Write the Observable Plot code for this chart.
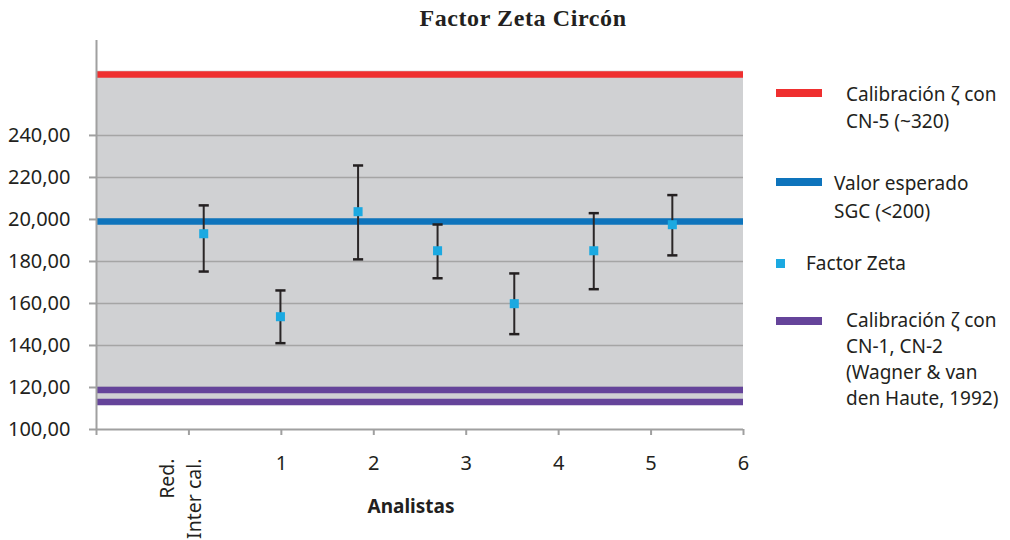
<!DOCTYPE html>
<html><head><meta charset="utf-8">
<script src="https://cdn.jsdelivr.net/npm/d3@7"></script>
<script src="https://cdn.jsdelivr.net/npm/@observablehq/plot@0.6"></script>
<style>
body{margin:0;background:#fff;}
#wrap{position:relative;width:1010px;height:540px;font-family:"Noto Sans",sans-serif;color:#231f20;overflow:hidden;}
#title{position:absolute;left:273px;width:500px;top:4px;line-height:28px;text-align:center;font-weight:bold;font-size:24px;letter-spacing:0.6px;font-family:"Liberation Serif","DejaVu Serif",serif;color:#231f20;}
#chart{position:absolute;left:0;top:0;}
.sw{position:absolute;}
.lt{position:absolute;font-size:19px;white-space:pre;color:#231f20;}
</style></head>
<body>
<div id="wrap">
  <div id="chart"></div>
  <div id="title"></div>
  <div id="legend"></div>
</div>
<script>
// ---- data ----
const titleText = "Factor Zeta Circón";
const xAxisLabel = "Analistas";
const xTicks = [1, 2, 3, 4, 5, 6, 7];
const xTickLabels = ["Red.\nInter cal.", "1", "2", "3", "4", "5", "6"];
const yTicks = [100, 120, 140, 160, 180, 200, 220, 240];
const yTickLabels = ["100,00", "120,00", "140,00", "160,00", "180,00", "20,000", "220,00", "240,00"];
const analystX = [1.16, 1.99, 2.83, 3.69, 4.52, 5.38, 6.23];
const factorZeta = [193.2, 153.7, 203.7, 185.1, 159.9, 185.1, 197.5];
const errLow = [175.2, 141.1, 181.0, 172.0, 145.4, 166.8, 182.9];
const errHigh = [206.7, 166.2, 225.7, 197.6, 174.3, 203.0, 211.6];
const refNames = ["Calibración ζ con\nCN-5 (~320)", "Valor esperado\nSGC (<200)", "Calibración ζ con\nCN-1, CN-2\n(Wagner & van\nden Haute, 1992)", "Calibración ζ con\nCN-1, CN-2\n(Wagner & van\nden Haute, 1992)"];
const refValues = [269, 199, 118.8, 113.1];
const refColors = ["#ef2f2f", "#0e74bc", "#65449a", "#65449a"];
const bandRange = [111.4, 270.6];
const pointName = "Factor Zeta";
const pointColor = "#1ba9e1";

// ---- tables ----
const points = analystX.map((x, i) => ({x, y: factorZeta[i], lo: errLow[i], hi: errHigh[i]}));
const refs = refValues.map((v, i) => ({v, c: refColors[i], name: refNames[i]}));
const capHalf = 0.055;

document.getElementById("title").textContent = titleText;

const chart = Plot.plot({
  width: 760,
  height: 540,
  marginLeft: 96,
  marginRight: 17,
  marginTop: 40,
  marginBottom: 111,
  style: {fontFamily: "Noto Sans, sans-serif", fontSize: "20px", color: "#231f20", background: "transparent"},
  x: {domain: [0, 7]},
  y: {domain: [100, 285.2]},
  marks: [
    Plot.rect([bandRange], {x1: 0, x2: 7, y1: d => d[0], y2: d => d[1], fill: "#d0d1d3"}),
    Plot.gridY(yTicks.filter(t => t > 100), {stroke: "#a5a5a5", strokeOpacity: 1, strokeWidth: 1.6}),
    Plot.ruleY(refs, {y: "v", x1: 0, x2: 7, stroke: "c", strokeWidth: 6.5}),
    Plot.ruleX(points, {x: "x", y1: "lo", y2: "hi", stroke: "#2a2627", strokeWidth: 2}),
    Plot.link(points, {x1: d => d.x - capHalf, x2: d => d.x + capHalf, y1: "hi", y2: "hi", stroke: "#231f20", strokeWidth: 2.5}),
    Plot.link(points, {x1: d => d.x - capHalf, x2: d => d.x + capHalf, y1: "lo", y2: "lo", stroke: "#231f20", strokeWidth: 2.5}),
    Plot.dot(points, {x: "x", y: "y", symbol: "square", r: 5.1, fill: pointColor}),
    Plot.ruleX([0], {stroke: "#a0a0a0", strokeWidth: 2}),
    Plot.ruleY([100], {stroke: "#a0a0a0", strokeWidth: 2}),
    Plot.axisY({ticks: yTicks, tickFormat: d => yTickLabels[yTicks.indexOf(d)], tickSize: 7, tickPadding: 19, stroke: "#a0a0a0", strokeWidth: 2, fill: "#231f20", label: null}),
    Plot.axisX({ticks: [0, ...xTicks], tickFormat: d => (d === 0 || d === xTicks[0]) ? "" : xTickLabels[xTicks.indexOf(d)], tickSize: 6, tickPadding: 20, stroke: "#a0a0a0", strokeWidth: 2, fill: "#231f20", label: null}),
    Plot.text([xTickLabels[0]], {x: xTicks[0], frameAnchor: "bottom", rotate: -90, textAnchor: "end", lineAnchor: "middle", lineHeight: 1.4, dy: 29, dx: -10, fontSize: 19.5, fill: "#231f20"}),
    Plot.text([xAxisLabel], {frameAnchor: "bottom", dy: 83, dx: -9, fontWeight: "bold", fontSize: 19, fill: "#231f20"})
  ]
});
document.getElementById("chart").appendChild(chart);

// ---- legend ----
const legend = document.getElementById("legend");
const legendItems = [
  {kind: "line", color: refColors[0], text: refNames[0], sy: 89, tx: 846, ty: 81, lh: 27},
  {kind: "line", color: refColors[1], text: refNames[1], sy: 178, tx: 834, ty: 169, lh: 28},
  {kind: "square", color: pointColor, text: pointName, sy: 259, tx: 806, ty: 250, lh: 27},
  {kind: "line", color: refColors[2], text: refNames[2], sy: 317, tx: 846, ty: 307, lh: 26}
];
legendItems.forEach(it => {
  const s = document.createElement("div");
  s.className = "sw";
  s.style.left = "776px";
  s.style.top = it.sy + "px";
  s.style.width = it.kind === "line" ? "46px" : "9px";
  s.style.height = it.kind === "line" ? "8px" : "9px";
  s.style.background = it.color;
  legend.appendChild(s);
  const t = document.createElement("div");
  t.className = "lt";
  t.style.left = it.tx + "px";
  t.style.top = it.ty + "px";
  t.style.lineHeight = it.lh + "px";
  t.textContent = it.text;
  legend.appendChild(t);
});
</script>
</body></html>
